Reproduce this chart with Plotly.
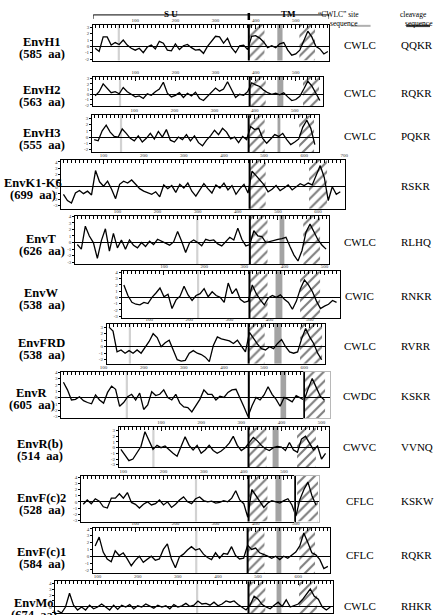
import math
import plotly.graph_objects as go

FIG_W, FIG_H = 434, 615
STEP = 10  # residues between successive hydrophobicity values

names = ["EnvH1", "EnvH2", "EnvH3", "EnvK1-K6", "EnvT", "EnvW", "EnvFRD",
         "EnvR", "EnvR(b)", "EnvF(c)2", "EnvF(c)1", "EnvMo"]
lengths = ["(585  aa)", "(563  aa)", "(555  aa)", "(699  aa)", "(626  aa)", "(538  aa)",
           "(538  aa)", "(605  aa)", "(514  aa)", "(528  aa)", "(584  aa)", "(674  aa)"]
cwlc_site = ["CWLC", "CWLC", "CWLC", "", "CWLC", "CWIC", "CWLC", "CWDC", "CWVC",
             "CFLC", "CFLC", "CWLC"]
cleavage_site = ["QQKR", "RQKR", "PQKR", "RSKR", "RLHQ", "RNKR", "RVRR", "KSKR",
                 "VVNQ", "KSKW", "RQKR", "RHKR"]

# hydrophobicity profiles, one value every STEP residues starting at residue 0
h_H1 = [-0.3, -0.8, 1.5, 1.5, 0.2, 0.6, 0.3, 1.0, 0.2, -0.3, -0.6, -0.3, -1.0, -0.1, 0.2,
        -0.4, 0.8, 0.5, -0.6, -0.7, 0.4, -0.5, 0.1, 0.3, -0.2, -0.6, -0.5, -1.1, 0.0, 0.8,
        1.6, 1.5, 0.5, 1.3, -0.2, -1.0, 0.1, 0.2, -0.5, 1.6, 1.7, 1.3, 0.7, -0.2, 0.1,
        -0.2, 0.4, 0.6, -0.6, -1.4, -1.2, -0.6, 0.8, 2.4, 1.5, 0.0, -0.4, -1.2, -0.8]
h_H2 = [-0.3, 0.5, 2.0, 1.2, 0.3, 0.5, 0.1, 1.3, 0.5, 0.0, -0.5, -0.3, -0.8, 0.1, -0.2,
        0.5, 1.0, 2.3, 0.2, -0.5, -0.2, 0.3, -0.6, 0.2, -0.3, 0.4, -0.8, -1.2, -0.4, 0.3,
        1.2, 0.6, 1.0, 2.4, 1.0, -0.6, 0.0, -0.2, 0.5, 2.2, 1.8, 1.5, 0.8, 0.3, 0.0,
        0.2, -0.1, 0.3, -0.5, -1.2, -1.0, -0.4, 1.0, 2.5, 1.6, 0.2, -1.2]
h_H3 = [-0.4, -0.6, 1.0, 1.9, 0.8, 0.1, 0.0, 1.3, 0.6, -0.2, -0.6, 0.2, -0.8, -0.2, 0.6,
        -0.3, 0.9, 0.0, 1.2, -0.5, -0.8, 0.0, -0.4, 0.4, -0.6, 0.2, -0.9, -1.4, -0.5, 0.2,
        1.1, 0.4, 1.4, 0.8, -0.3, 0.0, -0.9, 0.1, -0.4, 1.7, 1.2, 1.4, -0.2, -1.0, -0.3,
        0.4, 0.1, 0.6, -0.4, -1.2, -0.8, -0.3, 1.6, 2.7, 1.4, -1.2]
h_K = [-1.2, -2.2, -2.6, -1.0, -0.6, -1.1, -0.7, -1.3, 2.6, 0.8, 0.1, 0.9, -0.4, -1.9,
       0.4, 0.9, 0.6, 1.1, 0.4, -0.3, -0.7, -0.9, -1.2, -0.8, -1.6, 0.3, -0.3, 0.2, -0.9,
       0.4, -0.2, 0.6, -0.7, -1.5, -0.4, 0.5, -0.3, -1.0, 0.3, -0.2, 0.6, -0.5, 0.2, -1.2,
       -0.3, 0.4, -1.0, 2.5, 1.8, 1.0, 0.3, -0.8, -0.4, 0.2, -0.6, -0.2, 0.3, -0.5, 0.0,
       0.5, 0.2, 0.6, 0.3, 2.0, 3.4, 1.5, -2.2, 0.0, -1.2, -0.8]
h_T = [-0.3, -1.0, 2.5, 1.0, 0.0, -2.4, 0.3, 2.1, -1.3, 1.4, -0.8, 0.4, -1.0, 0.4, -0.4,
       -0.8, 0.0, -0.6, 0.2, -0.3, 0.5, 0.2, 0.0, -0.4, 0.1, 1.7, 0.2, -1.5, 0.0, 0.4,
       0.0, -0.5, 0.5, 0.3, 0.4, -0.2, -0.5, 0.2, 0.8, 0.4, 2.2, 0.5, -0.5, -0.3, 1.8,
       1.0, 0.9, 0.0, 0.2, 0.4, 0.5, 0.6, 0.8, -0.6, -1.9, -2.8, -1.2, 1.6, 2.8, 1.6,
       0.4, -0.4, -1.0]
h_W = [2.0, 0.3, -0.8, -1.1, -1.2, -0.8, -1.0, 0.0, 0.7, 1.5, 0.1, 0.5, -1.8, -0.4, 0.2,
       1.8, 0.4, -0.5, 0.3, 0.6, 1.4, 0.1, 0.9, 0.3, 0.0, -0.8, 2.3, 0.6, 1.4, -0.3,
       -0.8, -0.6, 2.0, 0.6, -0.4, -1.2, -0.1, 0.3, 0.0, 0.4, -0.3, -0.8, -1.9, -0.6, 1.4,
       2.8, 2.0, 0.9, -0.6, -1.8, -1.4, -1.1, -0.5, -0.8]
h_FRD = [3.0, 2.4, -0.8, -0.5, -1.0, -0.6, -1.0, -0.5, -1.0, -0.1, 0.8, 2.0, 1.4, 0.0,
         0.6, 1.0, -0.6, -2.0, -2.2, -2.1, -1.0, -0.6, -1.0, -1.2, -1.6, -2.3, 0.2, 1.5,
         1.2, 1.1, 0.9, 0.5, 1.0, 0.1, -0.8, 2.2, 1.2, 0.4, -0.3, -0.5, 0.0, -0.3, 0.5,
         1.1, 0.0, -0.8, -1.0, -0.8, 1.2, 2.8, 1.5, 0.5, -1.0, -2.0]
h_R = [2.4, 1.2, -0.4, -0.3, 0.1, -0.5, -0.8, -1.0, 0.4, -0.4, -0.9, 0.8, 1.8, 1.3,
       -1.4, -0.8, 0.1, 0.5, -0.4, 0.7, -1.9, -1.2, 0.9, 0.3, 0.5, 1.2, 0.0, -0.4, 0.5,
       -0.9, -1.5, -1.6, -2.3, -1.3, -0.3, 1.2, 0.5, 0.5, -0.4, 0.2, 0.0, 0.8, 1.2, 1.3,
       0.0, -1.5, -3.0, -1.3, 0.0, -0.4, 0.4, 1.7, 0.5, -0.3, -1.4, 0.0, -0.3, -0.7, 0.3,
       0.0, -0.4, 1.4, 3.0, 1.6, 0.2, -0.4]
h_Rb = [-0.3, -1.4, -2.3, -2.0, -1.0, 0.2, 2.8, 1.2, -0.3, 0.4, 0.0, 0.3, -0.4, -1.0,
        -1.5, 0.2, 1.9, 0.4, -0.4, 0.4, -1.0, -0.4, 0.4, -0.5, -1.0, -0.6, 0.0, 0.8, 2.0,
        0.4, -0.5, 0.0, 1.0, 1.8, 1.2, 0.4, -0.2, -0.5, 0.0, 0.2, 0.1, -0.5, 0.9, -0.4,
        -0.8, 1.5, 2.0, 0.8, -0.4, 0.3, -2.0, -1.0]
h_Fc2 = [-0.4, 0.3, -0.3, 0.5, 0.1, -0.8, -1.0, 0.6, 0.6, 1.3, 0.6, 1.5, -0.1, -0.4,
         -1.0, -0.4, 0.0, -0.5, -0.3, 0.3, -0.5, 0.0, -0.9, -0.4, 0.3, 0.8, 0.0, -0.3,
         0.5, 0.8, 0.2, 0.0, 0.1, -0.2, -0.1, 0.2, 0.0, 0.6, 1.8, 0.3, -0.3, -2.5, 2.0,
         1.0, 0.2, -0.9, -0.2, 0.2, 0.0, -0.2, 0.2, 0.5, -0.5, -2.3, 0.4, 2.0, 3.2, 1.0,
         -0.5]
h_Fc1 = [1.5, 2.8, 0.6, -0.4, -0.8, 0.8, 0.1, 0.5, -0.4, -1.4, -0.6, 0.0, -0.9, -0.4,
         0.0, -0.6, -0.4, 1.0, 1.8, -0.4, -1.7, -0.1, 0.3, 0.9, 1.4, 0.9, 1.1, 0.3, -0.2,
         -0.5, 0.5, -0.3, 0.4, 0.3, 1.4, 0.1, -0.4, -0.3, 1.6, 1.0, 1.2, 0.5, 0.3, 0.0,
         -0.3, 0.0, -0.5, 0.0, -0.3, 0.2, 0.6, 1.5, 3.4, 2.0, 0.5, 0.2, -0.5, -1.8, -1.5]
h_Mo = [-0.6, -1.0, 0.0, 2.3, 0.3, -0.5, 0.0, -0.5, 0.3, -0.3, 0.0, 0.5, 0.0, -0.5, 0.3,
        -0.4, 0.3, 0.0, 0.4, -0.3, 0.2, 0.0, 0.5, 0.1, -0.2, 0.3, 0.0, 0.2, -0.3, 0.4,
        0.0, 0.2, 0.6, 0.1, 0.3, 1.0, 0.5, 0.6, 0.3, 0.8, 0.2, 0.5, 1.0, 0.8, 1.0, 0.4,
        0.0, -0.5, 0.3, 1.8, 1.3, 0.4, 0.0, -0.3, 0.3, 0.8, 0.1, 1.2, 0.0, 0.2, 0.5, 1.2,
        2.2, 3.0, 1.8, 1.3, 0.0, -0.5, 0.0]
profiles = [h_H1, h_H2, h_H3, h_K, h_T, h_W, h_FRD, h_R, h_Rb, h_Fc2, h_Fc1, h_Mo]

# sequence features (residue coordinates on each panel's own axis)
su_tm_boundary = [383, 385, 385, 464, 430, 313, 348, 462, 318, 412, 380, 476]
cwlc_line = [59, 62, 67, None, 299, 185, 52, 158, 81, 281, 252, 348]
gray_band = [(454, 467), (454, 469), (457, 464), None, (504, 516), (378, 395), (412, 430),
             (541, 555), (378, 393), (479, 494), (452, 464), (546, 558)]
hatched = [[(383, 422), (509, 548)], [(385, 425), (518, 558)], [(385, 425), (511, 548)],
           [(464, 504), (612, 657)], [(430, 474), (563, 605)], [(313, 358), (439, 489)],
           [(348, 388), (476, 531)], [(602, 652)], [(318, 363), (439, 486)],
           [(412, 459), (533, 585)], [(380, 422), (509, 548)], [(476, 518), (602, 647)]]
axis_end = [583, 568, 560, 701, 627, 538, 538, 600, 518, 528, 585, 686]
extra_end = [None, None, None, None, None, None, None, 664, None, 588, None, None]
y_min = [-2.25, -2.3, -2.4, -3.5, -3.3, -3.3, -2.6, -3.3, -3.4, -3.2, -2.5, -1.0]
y_max = [3.4, 3.4, 3.5, 4.3, 4.1, 4.2, 3.5, 4.1, 3.6, 4.2, 4.2, 4.3]

# layout (pixels)
PX_PER_AA = 0.405
X_START = -5
panel_left = [94, 94, 93, 62, 76, 123, 108, 62, 120, 82, 94, 56]
panel_top = [23, 75, 114, 159, 215, 271, 324, 372, 428, 477, 529, 583]
panel_bottom = [59, 105, 151, 208, 264, 318, 364, 419, 468, 523, 575, 615]
label_x = [42, 42, 42, 33, 42, 42, 42, 32, 40, 42, 42, 34]
CWLC_X = 363
CLEAV_X = 403
SERIF = "Liberation Serif"

fig = go.Figure()
layout = {}
shapes = []
annotations = []


def ref(n):
    return ("x" if n == 1 else f"x{n}"), ("y" if n == 1 else f"y{n}")


def axkey(n):
    return ("xaxis" if n == 1 else f"xaxis{n}"), ("yaxis" if n == 1 else f"yaxis{n}")


axn = 0
for i in range(12):
    top, bot, left = panel_top[i], panel_bottom[i], panel_left[i]
    ylo, yhi = y_min[i], y_max[i]
    main_end = axis_end[i]
    right = left + (main_end - X_START) * PX_PER_AA
    ydom = [1 - bot / FIG_H, 1 - top / FIG_H]
    xs = [k * STEP for k in range(len(profiles[i]))]

    axn += 1
    main_ax = axn
    xr, yr = ref(axn)
    kx, ky = axkey(axn)
    major = list(range(100, int(main_end) + 1, 100))
    minor = list(range(0, int(main_end) + 1, 10))
    layout[kx] = dict(domain=[left / FIG_W, right / FIG_W], range=[X_START, main_end],
                      anchor=yr, side="top", showline=True, mirror=True,
                      linecolor="black", linewidth=1, showgrid=False, zeroline=False,
                      tickmode="array", tickvals=major, ticktext=[str(v) for v in major],
                      ticks="inside", ticklen=4, tickwidth=1, tickcolor="black",
                      tickfont=dict(size=5, family=SERIF, color="#333333"),
                      minor=dict(tickmode="array", tickvals=minor, ticks="inside",
                                 ticklen=3, tickwidth=1, tickcolor="black"),
                      fixedrange=True)
    yt = list(range(math.ceil(ylo), math.floor(yhi) + 1))
    layout[ky] = dict(domain=ydom, range=[ylo, yhi], anchor=xr, showline=True,
                      mirror=True, linecolor="black", linewidth=1, showgrid=False,
                      zeroline=True, zerolinecolor="black", zerolinewidth=1,
                      tickmode="array", tickvals=yt, ticktext=[str(v) for v in yt],
                      ticks="outside", ticklen=2, tickcolor="black",
                      tickfont=dict(size=5, family=SERIF, color="#333333"),
                      fixedrange=True)
    targets = [(main_ax, X_START, main_end)]

    if extra_end[i] is not None:
        axn += 1
        xr2, yr2 = ref(axn)
        kx2, ky2 = axkey(axn)
        right2 = right + (extra_end[i] - main_end) * PX_PER_AA
        layout[kx2] = dict(domain=[right / FIG_W, right2 / FIG_W],
                           range=[main_end, extra_end[i]], anchor=yr2, showline=True,
                           mirror=True, linecolor="#b8b8b8", linewidth=1, showgrid=False,
                           zeroline=False, showticklabels=False, ticks="", fixedrange=True)
        layout[ky2] = dict(domain=ydom, range=[ylo, yhi], anchor=xr2, showline=True,
                           mirror=True, linecolor="#b8b8b8", linewidth=1, showgrid=False,
                           zeroline=True, zerolinecolor="black", zerolinewidth=1,
                           showticklabels=False, ticks="", fixedrange=True)
        targets.append((axn, main_end, extra_end[i]))
        # dark end of the main frame
        shapes.append(dict(type="line", xref=xr, yref="paper", x0=main_end,
                           x1=main_end, y0=ydom[0], y1=ydom[1],
                           line=dict(color="black", width=1.6), layer="above"))

    # hatched hydrophobic regions
    for (a, b) in hatched[i]:
        n = main_ax
        for (tn, t0, t1) in targets:
            if a >= t0 - 1 and b <= t1 + 1:
                n = tn
        hx, hy = ref(n)
        fig.add_trace(go.Scatter(
            x=[a, a, b, b, a], y=[ylo, yhi, yhi, ylo, ylo], xaxis=hx, yaxis=hy,
            mode="lines", line=dict(width=0, color="rgba(0,0,0,0)"), fill="toself",
            fillcolor="rgba(0,0,0,0)",
            fillpattern=dict(shape="/", fgcolor="black", bgcolor="rgba(0,0,0,0)",
                             size=7, solidity=0.3, fillmode="overlay"),
            showlegend=False, hoverinfo="skip"))

    # profile
    for (tn, t0, t1) in targets:
        px_, py_ = ref(tn)
        fig.add_trace(go.Scatter(x=xs, y=profiles[i], xaxis=px_, yaxis=py_, mode="lines",
                                 line=dict(color="black", width=1.3),
                                 showlegend=False, hoverinfo="skip"))

    # features
    if gray_band[i] is not None:
        g0, g1 = gray_band[i]
        shapes.append(dict(type="rect", xref=xr, yref="paper", x0=g0, x1=g1,
                           y0=ydom[0], y1=ydom[1], fillcolor="#a3a3a3",
                           line=dict(width=0), layer="below"))
    if cwlc_line[i] is not None:
        shapes.append(dict(type="line", xref=xr, yref="paper", x0=cwlc_line[i],
                           x1=cwlc_line[i], y0=ydom[0], y1=ydom[1],
                           line=dict(color="#d2d2d2", width=2.2), layer="below"))
    shapes.append(dict(type="line", xref=xr, yref="paper", x0=su_tm_boundary[i],
                       x1=su_tm_boundary[i], y0=ydom[0], y1=ydom[1],
                       line=dict(color="black", width=2), layer="above"))

    # text labels
    zero_px = top + (bot - top) * yhi / (yhi - ylo)
    annotations.append(dict(xref="paper", yref="paper", x=label_x[i] / FIG_W,
                            y=1 - (zero_px - 4) / FIG_H, text=f"<b>{names[i]}</b>",
                            showarrow=False, xanchor="center", yanchor="middle",
                            font=dict(family=SERIF, size=12.5, color="black")))
    annotations.append(dict(xref="paper", yref="paper", x=label_x[i] / FIG_W,
                            y=1 - (zero_px + 8) / FIG_H, text=f"<b>{lengths[i]}</b>",
                            showarrow=False, xanchor="center", yanchor="middle",
                            font=dict(family=SERIF, size=12.5, color="black")))
    if cwlc_site[i]:
        annotations.append(dict(xref="paper", yref="paper", x=CWLC_X / FIG_W,
                                y=1 - (zero_px - 1) / FIG_H, text=cwlc_site[i],
                                showarrow=False, xanchor="center", yanchor="middle",
                                font=dict(family=SERIF, size=11, color="black")))
    annotations.append(dict(xref="paper", yref="paper", x=CLEAV_X / FIG_W,
                            y=1 - (zero_px - 1) / FIG_H, text=cleavage_site[i],
                            showarrow=False, xanchor="left", yanchor="middle",
                            font=dict(family=SERIF, size=11, color="black")))

# SU / TM bracket above the first panel (drawn on the first panel's residue axis)
BR_Y = 1 - 13 / FIG_H
BR_Y2 = 1 - 17 / FIG_H
shapes.append(dict(type="line", xref="x", yref="paper", x0=X_START, x1=axis_end[0],
                   y0=BR_Y, y1=BR_Y, line=dict(color="black", width=1)))
for xv in (X_START, axis_end[0]):
    shapes.append(dict(type="line", xref="x", yref="paper", x0=xv, x1=xv, y0=BR_Y,
                       y1=BR_Y2, line=dict(color="black", width=1)))
shapes.append(dict(type="line", xref="x", yref="paper", x0=su_tm_boundary[0],
                   x1=su_tm_boundary[0], y0=1 - 11 / FIG_H, y1=1 - 18 / FIG_H,
                   line=dict(color="black", width=2.5)))
annotations.append(dict(xref="x", yref="paper", x=(X_START + su_tm_boundary[0]) / 2,
                        y=1 - 5 / FIG_H, text="<b>S U</b>", showarrow=False,
                        font=dict(family=SERIF, size=9, color="black")))
annotations.append(dict(xref="x", yref="paper", x=(su_tm_boundary[0] + axis_end[0]) / 2,
                        y=1 - 5 / FIG_H, text="<b>TM</b>", showarrow=False,
                        font=dict(family=SERIF, size=9, color="black")))

# column headers
annotations.append(dict(xref="paper", yref="paper", x=364 / FIG_W, y=1 - 6 / FIG_H,
                        text="\u201cCWLC\u201d site", showarrow=False,
                        font=dict(family=SERIF, size=7.5, color="black")))
annotations.append(dict(xref="paper", yref="paper", x=363 / FIG_W, y=1 - 15 / FIG_H,
                        text="sequence", showarrow=False,
                        font=dict(family=SERIF, size=7.5, color="black")))
annotations.append(dict(xref="paper", yref="paper", x=402 / FIG_W, y=1 - 6 / FIG_H,
                        text="cleavage", showarrow=False, xanchor="left",
                        font=dict(family=SERIF, size=7.5, color="black")))
annotations.append(dict(xref="paper", yref="paper", x=407 / FIG_W, y=1 - 15 / FIG_H,
                        text="sequence", showarrow=False, xanchor="left",
                        font=dict(family=SERIF, size=7.5, color="black")))
shapes.append(dict(type="line", xref="paper", yref="paper", x0=354 / FIG_W,
                   x1=374 / FIG_W, y0=1 - 24 / FIG_H, y1=1 - 24 / FIG_H,
                   line=dict(color="#b0b0b0", width=2)))
shapes.append(dict(type="line", xref="paper", yref="paper", x0=410 / FIG_W,
                   x1=434 / FIG_W, y0=1 - 24 / FIG_H, y1=1 - 24 / FIG_H,
                   line=dict(color="#404040", width=2.5)))

fig.update_layout(width=FIG_W, height=FIG_H, margin=dict(l=0, r=0, t=0, b=0),
                  paper_bgcolor="white", plot_bgcolor="white", showlegend=False,
                  shapes=shapes, annotations=annotations, **layout)
fig.write_html("out.html", config={"displayModeBar": False})
